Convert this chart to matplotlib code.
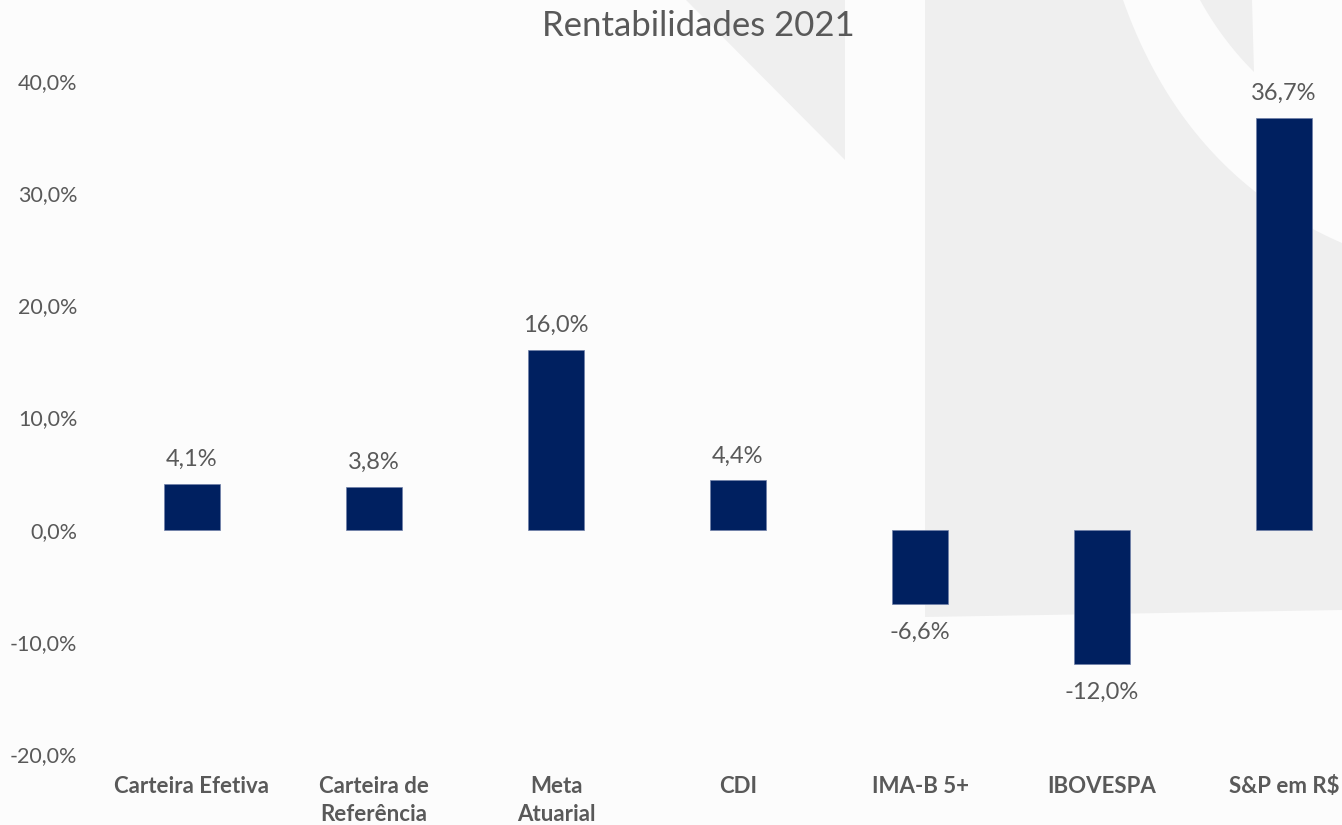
import matplotlib

matplotlib.use("Agg")
import matplotlib.pyplot as plt
import numpy as np
from matplotlib.patches import Polygon

categories = ["Carteira Efetiva", "Carteira de\nReferência", "Meta\nAtuarial", "CDI",
              "IMA-B 5+", "IBOVESPA", "S&P em R$"]
returns = [4.1, 3.8, 16.0, 4.4, -6.6, -12.0, 36.7]
yticks = [-20, -10, 0, 10, 20, 30, 40]

BAR = "#002060"
TEXT = "#595959"
BG = "#fcfcfc"
MARK = "#efefef"

plt.rcParams["font.family"] = ["Lato", "DejaVu Sans"]


def bezier(p0, p1, p2, n=40):
    t = np.linspace(0, 1, n)[:, None]
    return ((1 - t) ** 2 * np.array(p0) + 2 * (1 - t) * t * np.array(p1) + t ** 2 * np.array(p2)).tolist()


fig = plt.figure(figsize=(13.42, 8.25), dpi=100)
fig.patch.set_facecolor(BG)

# background watermark, drawn in pixel coordinates
bg = fig.add_axes([0, 0, 1, 1], zorder=0)
bg.set_xlim(0, 1342)
bg.set_ylim(825, 0)
bg.axis("off")
bg.add_patch(Polygon([(686, 0), (845, 0), (845, 160)], closed=True, color=MARK, lw=0))
outer = [(925, 0)] + bezier((1123, 0), (1185, 175), (1342, 243)) + [(1342, 610), (925, 617)]
bg.add_patch(Polygon(outer, closed=True, color=MARK, lw=0))
sliver = [(1252, 0), (1254, 72)] + bezier((1254, 72), (1222, 40), (1200, 0))
bg.add_patch(Polygon(sliver, closed=True, color=MARK, lw=0))

ax = fig.add_axes([101 / 1342, 1 - 754 / 825, 1274 / 1342, 673 / 825], zorder=1)
ax.patch.set_alpha(0)
x = np.arange(len(categories))
ax.bar(x, returns, width=0.31, color=BAR, edgecolor="#6f7fa8", linewidth=0.5)

for xi, v in zip(x, returns):
    label = f"{v:.1f}%".replace(".", ",")
    if v >= 0:
        ax.annotate(label, (xi, v), xytext=(0, 10), textcoords="offset points",
                    ha="center", va="bottom", fontsize=17, color=TEXT)
    else:
        ax.annotate(label, (xi, v), xytext=(0, -13), textcoords="offset points",
                    ha="center", va="top", fontsize=17, color=TEXT)

ax.set_xlim(-0.5, len(categories) - 0.5)
ax.set_ylim(-20, 40)
ax.set_yticks(yticks)
ax.set_yticklabels([f"{t:.1f}%".replace(".", ",") for t in yticks], fontsize=15.5, color=TEXT)
ax.set_xticks(x)
ax.set_xticklabels(categories, fontsize=16, color=TEXT, fontweight="bold", linespacing=1.4)
ax.tick_params(axis="both", length=0)
ax.tick_params(axis="y", pad=17)
ax.tick_params(axis="x", pad=16)
for s in ax.spines.values():
    s.set_visible(False)

fig.text(698 / 1342, 1 - 26 / 825, "Rentabilidades 2021", ha="center", va="center",
         fontsize=25, color=TEXT)

fig.savefig("out.png", dpi=100, facecolor=BG)
